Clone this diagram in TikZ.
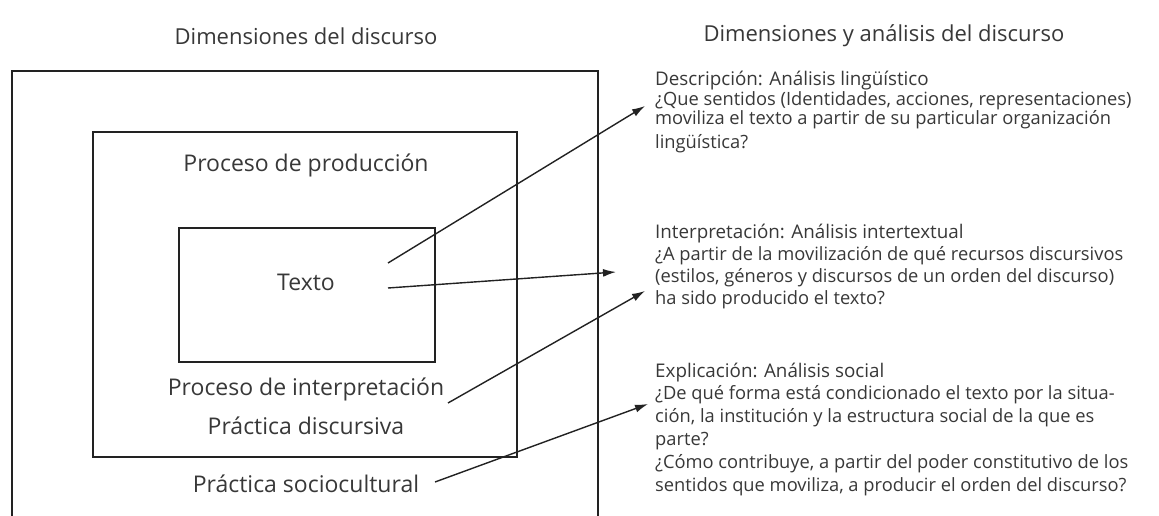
\documentclass[tikz,border=0pt]{standalone}
\usepackage{fontspec}
\setmainfont{Open Sans}
\usetikzlibrary{arrows.meta}
\definecolor{ink}{HTML}{383838}
\definecolor{linec}{HTML}{222222}
\tikzset{
  boxline/.style={draw=linec, line width=1.8pt},
  title/.style={text=ink, font=\fontsize{22}{24}\selectfont, inner sep=0pt},
  lab/.style={text=ink, font=\fontsize{23}{26}\selectfont, inner sep=0pt},
  rhead/.style={text=ink, font=\fontsize{18.8}{20}\selectfont, inner sep=0pt, anchor=base west},
  rbody/.style={text=ink, font=\fontsize{18.3}{20}\selectfont, inner sep=0pt, anchor=base west},
  arr/.style={draw=linec, line width=1.4pt, -{Latex[length=13pt,width=8pt]}}
}
\begin{document}
\begin{tikzpicture}[x=1pt,y=-1pt]
\useasboundingbox (0,0) rectangle (1159,516);
\fill[white] (0,0) rectangle (1159,516);
% boxes
\draw[boxline] (12,516) -- (12,71) -- (598,71) -- (598,516);
\draw[boxline] (93,132) rectangle (517,457);
\draw[boxline] (179,228) rectangle (435,362);
% titles
\node[title] (t1) at (306,36) {Dimensiones del discurso};
\node[title] (t2) at (884,36) {Dimensiones y análisis del discurso};
% left labels
\node[lab] (prod) at (306,165) {Proceso de producción};
\node[lab] (texto) at (306,282) {Texto};
\node[lab] (interp) at (306,389) {Proceso de interpretación};
\node[lab] (disc) at (306,426) {Práctica discursiva};
\node[lab] (socio) at (306,484) {Práctica sociocultural};
% right block 1
\node[rhead] (h1) at (655,86) {Descripción: Análisis lingüístico};
\node[rbody] (b11) at (655,106) {¿Que sentidos (Identidades, acciones, representaciones)};
\node[rbody] (b12) at (655,125) {moviliza el texto a partir de su particular organización};
\node[rbody] (b13) at (655,149) {lingüística?};
% right block 2
\node[rhead] (h2) at (655,238) {Interpretación: Análisis intertextual};
\node[rbody] (b21) at (655,260) {¿A partir de la movilización de qué recursos discursivos};
\node[rbody] (b22) at (655,282) {(estilos, géneros y discursos de un orden del discurso)};
\node[rbody] (b23) at (655,304) {ha sido producido el texto?};
% right block 3
\node[rhead] (h3) at (655,377) {Explicación: Análisis social};
\node[rbody] (b31) at (655,399) {¿De qué forma está condicionado el texto por la situa-};
\node[rbody] (b32) at (655,422) {ción, la institución y la estructura social de la que es};
\node[rbody] (b33) at (655,445) {parte?};
\node[rbody] (b34) at (655,468) {¿Cómo contribuye, a partir del poder constitutivo de los};
\node[rbody] (b35) at (655,491) {sentidos que moviliza, a producir el orden del discurso?};
% arrow endpoints
\coordinate (s1) at (388,263);
\coordinate (e1) at (645,106);
\coordinate (s2) at (388,288);
\coordinate (e2) at (616,272);
\coordinate (s3) at (448,403);
\coordinate (e3) at (645,291);
\coordinate (s4) at (435,482);
\coordinate (e4) at (648,404);
\draw[arr] (s1) -- (e1);
\draw[arr] (s2) -- (e2);
\draw[arr] (s3) -- (e3);
\draw[arr] (s4) -- (e4);
\end{tikzpicture}
\end{document}
